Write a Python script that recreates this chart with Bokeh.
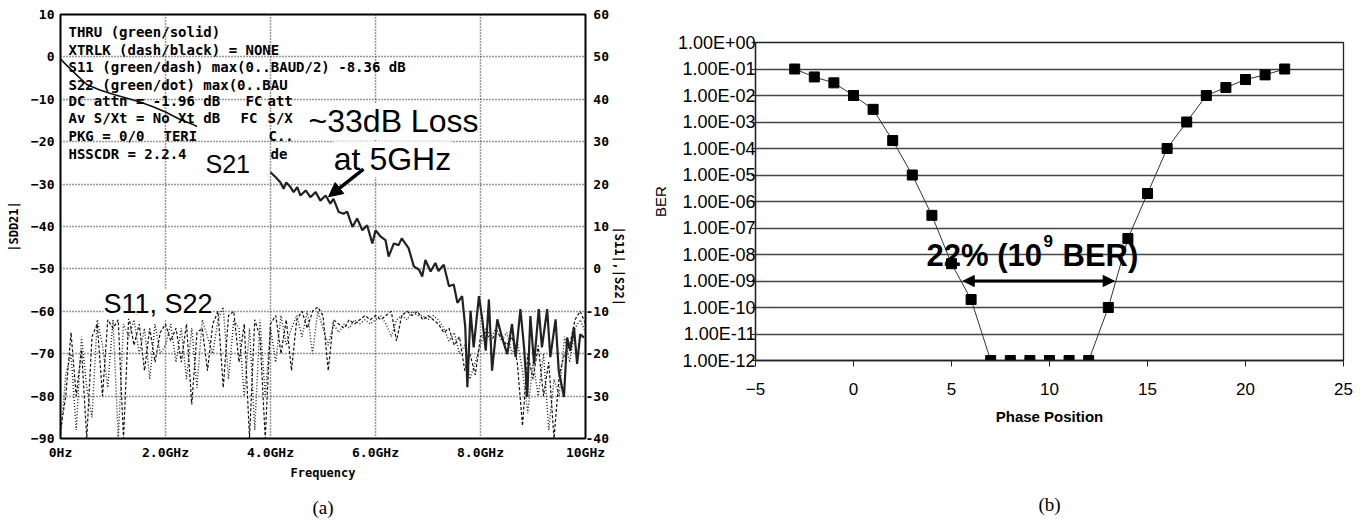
import math
from bokeh.plotting import figure
from bokeh.models import (Range1d, LinearAxis, FixedTicker, Label, Arrow,
                          NormalHead, CustomJSTickFormatter)
from bokeh.embed import file_html
from bokeh.resources import INLINE

MONO = "DejaVu Sans Mono"
SANS = "Liberation Sans"
SERIF = "Liberation Serif"

# ---------------- Panel (a) data: S-parameters ----------------
s21_lo_freq = [0.0, 0.25, 0.5, 0.75, 1.0, 1.25, 1.5, 1.75, 2.0, 2.25, 2.5, 2.6]
s21_lo_db = [-0.5, -3.6, -6.5, -7.8, -8.8, -9.7, -10.6, -11.7, -13.0, -14.6, -15.8, -16.4]

s21_hi_freq = [4.0, 4.1, 4.19, 4.25, 4.3, 4.38, 4.44, 4.51, 4.57, 4.67,
               4.76, 4.86, 4.95, 5.05, 5.14, 5.2, 5.3, 5.39, 5.46, 5.56,
               5.65, 5.75, 5.84, 5.94, 6.0, 6.1, 6.19, 6.25, 6.35, 6.44,
               6.5, 6.63, 6.73, 6.83, 6.89, 6.95, 7.05, 7.14, 7.2, 7.3,
               7.4, 7.49, 7.56, 7.65, 7.71, 7.75, 7.81, 7.87, 7.97, 8.03,
               8.1, 8.16, 8.22, 8.32, 8.41, 8.51, 8.6, 8.67, 8.76, 8.83,
               8.89, 8.95, 9.02, 9.11, 9.17, 9.27, 9.33, 9.43, 9.49, 9.59,
               9.65, 9.71, 9.78, 9.84, 9.9, 9.97]
s21_hi_db = [-27.2, -28.4, -29.6, -31.1, -29.6, -30.7, -31.9, -30.7, -32.7, -31.5,
             -33.1, -31.9, -33.9, -32.7, -34.6, -33.5, -36.6, -37.0, -36.5, -40.1,
             -38.1, -40.9, -39.7, -44.0, -40.9, -42.4, -43.2, -47.1, -44.0, -44.4,
             -42.8, -45.1, -49.4, -50.2, -51.8, -47.9, -50.6, -48.6, -50.5, -49.0,
             -54.1, -53.7, -58.0, -56.4, -63.8, -77.9, -59.9, -68.5, -56.4, -61.5,
             -69.3, -57.2, -74.0, -61.9, -66.2, -70.1, -63.0, -70.8, -59.5, -68.5,
             -80.2, -61.1, -72.4, -59.5, -68.5, -59.5, -70.8, -61.9, -74.0, -80.2,
             -66.2, -69.3, -63.8, -72.4, -65.4, -66.2]

s11_db = [-38, -30, -15, -30, -19, -40, -16, -13, -30, -12,
          -14, -12, -40, -11, -18, -13, -24, -14, -22, -15,
          -13, -17, -14, -22, -13, -32, -15, -14, -24, -13,
          -10, -28, -11, -10, -22, -13, -40, -12, -16, -40,
          -13, -11, -20, -12, -24, -12, -10, -14, -10, -9,
          -11, -24, -12, -13, -14, -12, -13, -12, -11, -12,
          -11, -12, -11, -10, -17, -11, -10, -11, -10, -12,
          -11, -12, -13, -15, -14, -18, -16, -24, -20, -25,
          -16, -15, -17, -15, -16, -18, -16, -22, -37, -20,
          -26, -18, -30, -22, -40, -25, -20, -18, -12, -10,
          -13]
s22_db = [-40, -25, -20, -38, -16, -28, -35, -12, -18, -28,
          -12, -40, -13, -16, -12, -20, -14, -26, -13, -20,
          -18, -13, -22, -14, -26, -14, -28, -12, -16, -20,
          -12, -9, -26, -12, -14, -30, -14, -38, -12, -30,
          -14, -22, -11, -18, -14, -11, -16, -10, -20, -10,
          -14, -18, -13, -15, -13, -14, -12, -13, -12, -13,
          -12, -11, -13, -16, -12, -11, -12, -10, -11, -11,
          -12, -11, -12, -14, -17, -15, -20, -18, -26, -22,
          -18, -14, -16, -14, -17, -15, -20, -17, -24, -34,
          -22, -30, -20, -38, -26, -30, -16, -22, -14, -12,
          -15]
refl_freq = [i / 10 for i in range(len(s11_db))]

freq_ticks = [0, 2, 4, 6, 8, 10]
freq_tick_labels = ["0Hz", "2.0GHz", "4.0GHz", "6.0GHz", "8.0GHz", "10GHz"]
sdd21_ticks = [-90, -80, -70, -60, -50, -40, -30, -20, -10, 0, 10]
s11s22_ticks = [-40, -30, -20, -10, 0, 10, 20, 30, 40, 50, 60]

header_texts = [
    ("THRU (green/solid)", 68, 32),
    ("XTRLK (dash/black) = NONE", 68, 50),
    ("S11 (green/dash) max(0..BAUD/2) -8.36 dB", 68, 67),
    ("S22 (green/dot) max(0..BAU", 68, 85),
    ("DC attn = -1.96 dB", 68, 101), ("FC", 245, 101), ("att", 267, 101),
    ("Av S/Xt = No Xt dB", 68, 118), ("FC", 240, 118), ("S/X", 267, 118),
    ("PKG = 0/0", 68, 137), ("TERI", 163, 137), ("C..", 268, 137),
    ("HSSCDR = 2.2.4", 68, 155), ("de", 270, 155),
]

# ---------------- Panel (b) data: BER bathtub ----------------
phase = [-3, -2, -1, 0, 1, 2, 3, 4, 5, 6, 7, 8, 9, 10, 11, 12,
         13, 14, 15, 16, 17, 18, 19, 20, 21, 22]
ber = [1e-1, 5e-2, 3e-2, 1e-2, 3e-3, 2e-4, 1e-5, 3e-7, 4.5e-9, 2e-10,
       1e-12, 1e-12, 1e-12, 1e-12, 1e-12, 1e-12,
       1e-10, 4e-8, 2e-6, 1e-4, 1e-3, 1e-2, 2e-2, 4e-2, 6e-2, 1e-1]
phase_ticks = [-5, 0, 5, 10, 15, 20, 25]
ber_ticks = [1e-12, 1e-11, 1e-10, 1e-9, 1e-8, 1e-7, 1e-6, 1e-5, 1e-4,
             1e-3, 1e-2, 1e-1, 1.0]
eye_window = (5.6, 13.3)
eye_level = 1e-9

assert len(s21_hi_freq) == len(s21_hi_db)
assert len(s11_db) == len(s22_db)
assert len(phase) == len(ber)


# position helpers (page pixels -> data coords) for annotations
def ax_x(px):
    return (px - 60) / 52.5


def ax_y(py):
    return 10 - (py - 14) / 4.28


def bx_x(px):
    return (px - 755) / 19.6 - 5


def bx_y(py):
    return 10 ** (-(py - 42) / 26.5)


def caption_axis(text, standoff):
    return LinearAxis(ticker=FixedTicker(ticks=[]), axis_label=text,
                      axis_line_color=None, major_tick_out=0, major_tick_in=0,
                      minor_tick_out=0, minor_tick_in=0, major_label_standoff=0,
                      axis_label_standoff=standoff, axis_label_text_font=SERIF,
                      axis_label_text_font_size="19px",
                      axis_label_text_font_style="normal",
                      axis_label_text_color="black")


FIG_H = 520

# ======================= Panel (a) =======================
pa = figure(width=654, height=FIG_H, x_range=Range1d(0, 10), y_range=Range1d(-90, 10),
            output_backend="svg", toolbar_location=None,
            min_border_left=60, min_border_right=69, min_border_top=14,
            min_border_bottom=FIG_H - 442)
pa.styles = {"position": "absolute", "left": "0px", "top": "0px"}
pa.extra_y_ranges = {"right": Range1d(-40, 60)}
pa.outline_line_color = "black"
pa.outline_line_width = 2

for g, t in ((pa.xgrid, freq_ticks), (pa.ygrid, sdd21_ticks)):
    g.ticker = FixedTicker(ticks=t)
    g.grid_line_color = "#333333"
    g.grid_line_dash = "1 2"
    g.grid_line_width = 1.5

xa = pa.xaxis[0]
xa.ticker = FixedTicker(ticks=freq_ticks)
xa.major_label_overrides = {t: s for t, s in zip(freq_ticks, freq_tick_labels)}
xa.axis_label = "Frequency"
xa.axis_label_standoff = 3

ya = pa.yaxis[0]
ya.ticker = FixedTicker(ticks=sdd21_ticks)
ya.axis_label = "|SDD21|"
ya.axis_label_standoff = 7

yr = LinearAxis(y_range_name="right", ticker=FixedTicker(ticks=s11s22_ticks),
                axis_label="|S11|,|S22|")
yr.major_label_overrides = {t: (("\u00a0" + str(t)) if t >= 0 else str(t))
                            for t in s11s22_ticks}
yr.axis_label_standoff = 7
if "axis_label_orientation" in LinearAxis.properties():
    yr.axis_label_orientation = -math.pi / 2
pa.add_layout(yr, "right")

for ax in (xa, ya, yr):
    ax.axis_line_color = None
    ax.major_tick_line_color = None
    ax.minor_tick_line_color = None
    ax.major_tick_out = 0
    ax.major_tick_in = 0
    ax.minor_tick_out = 0
    ax.major_label_text_font = MONO
    ax.major_label_text_font_style = "bold"
    ax.major_label_text_font_size = "13px"
    ax.major_label_text_color = "black"
    ax.axis_label_text_font = MONO
    ax.axis_label_text_font_style = "bold"
    ax.axis_label_text_font_size = "12px"
    ax.axis_label_text_color = "black"
xa.major_label_standoff = 6
ya.major_label_standoff = 6
yr.major_label_standoff = 0

pa.add_layout(caption_axis("(a)", 14), "below")

pa.line(refl_freq, s11_db, y_range_name="right", line_color="#111111",
        line_width=1.2, line_dash="3 2")
pa.line(refl_freq, s22_db, y_range_name="right", line_color="#222222",
        line_width=1.4, line_dash="1 2")
pa.line(s21_lo_freq, s21_lo_db, line_color="#111111", line_width=1.6)
pa.line(s21_hi_freq, s21_hi_db, line_color="#222222", line_width=2.2)

for txt, px, py in header_texts:
    pa.add_layout(Label(x=ax_x(px), y=ax_y(py), text=txt, text_font=MONO,
                        text_font_style="bold", text_font_size="14px",
                        text_color="black", text_align="left",
                        text_baseline="middle"))

big = dict(text_font=SANS, text_color="black", text_baseline="alphabetic",
           background_fill_color="white")
pa.add_layout(Label(x=ax_x(393), y=ax_y(122), text="~33dB Loss", text_align="center",
                    text_font_size="32px", **big))
pa.add_layout(Label(x=ax_x(392), y=ax_y(160), text="at 5GHz", text_align="center",
                    text_font_size="32px", **big))
pa.add_layout(Label(x=ax_x(205), y=ax_y(165), text="S21", text_align="left",
                    text_font_size="25px", **big))
pa.add_layout(Label(x=ax_x(103), y=ax_y(306), text="S11, S22", text_align="left",
                    text_font_size="27px", **big))
pa.add_layout(Arrow(end=NormalHead(size=14, fill_color="black", line_color="black"),
                    x_start=ax_x(363), y_start=ax_y(170),
                    x_end=ax_x(328), y_end=ax_y(198),
                    line_color="black", line_width=3.5))

# ======================= Panel (b) =======================
PB_LEFT = 634
pb = figure(width=1361 - PB_LEFT, height=FIG_H, x_range=Range1d(-5, 25),
            y_range=Range1d(ber_ticks[0], ber_ticks[-1]), y_axis_type="log",
            output_backend="svg", toolbar_location=None,
            min_border_left=755 - PB_LEFT, min_border_right=18, min_border_top=42,
            min_border_bottom=FIG_H - 360)
pb.styles = {"position": "absolute", "left": f"{PB_LEFT}px", "top": "0px"}
pb.border_fill_alpha = 0
pb.outline_line_color = "#222222"
pb.outline_line_width = 1.3
pb.xgrid.grid_line_color = None
pb.ygrid.ticker = FixedTicker(ticks=ber_ticks)
pb.ygrid.grid_line_color = "#444444"
pb.ygrid.grid_line_width = 1.3

bxa = pb.xaxis[0]
bxa.ticker = FixedTicker(ticks=phase_ticks)
bxa.axis_label = "Phase Position"
bxa.axis_label_text_font_style = "bold"
bxa.axis_label_text_font_size = "15px"
bxa.major_label_text_font_size = "17px"
bxa.major_tick_out = 6
bxa.major_tick_in = 0
bxa.major_label_standoff = 16
bxa.axis_label_standoff = 10

bya = pb.yaxis[0]
bya.ticker = FixedTicker(ticks=ber_ticks)
bya.formatter = CustomJSTickFormatter(code="""
const e = Math.round(Math.log10(tick));
const a = Math.abs(e);
return "1.00E" + (e < 0 ? "-" : "+") + (a < 10 ? "0" : "") + a;
""")
bya.axis_label = "BER"
bya.axis_label_text_font_style = "normal"
bya.axis_label_text_font_size = "15px"
bya.major_label_text_font_size = "18px"
bya.major_tick_out = 4
bya.major_tick_in = 0
bya.major_label_standoff = -4
bya.axis_label_standoff = 6

for ax in (bxa, bya):
    ax.axis_line_color = "#222222"
    ax.axis_line_width = 1.3
    ax.major_tick_line_color = "#222222"
    ax.minor_tick_line_color = None
    ax.minor_tick_out = 0
    ax.major_label_text_font = SANS
    ax.major_label_text_color = "black"
    ax.axis_label_text_font = SANS
    ax.axis_label_text_color = "black"

pb.add_layout(caption_axis("(b)", 66), "below")

pb.line(phase, ber, line_color="#333333", line_width=1)
pb.scatter(phase, ber, marker="square", size=10, fill_color="black",
           line_color="black")

pb.add_layout(Arrow(start=NormalHead(size=11, fill_color="black", line_color="black"),
                    end=NormalHead(size=11, fill_color="black", line_color="black"),
                    x_start=eye_window[0], y_start=eye_level,
                    x_end=eye_window[1], y_end=eye_level,
                    line_color="black", line_width=3))
lab = dict(text_font=SANS, text_font_style="bold", text_color="black",
           text_align="left", text_baseline="alphabetic")
pb.add_layout(Label(x=bx_x(926), y=bx_y(255), text="22% (10",
                    text_font_size="31px", **lab))
pb.add_layout(Label(x=bx_x(1043), y=bx_y(240), text="9",
                    text_font_size="17px", **lab))
pb.add_layout(Label(x=bx_x(1062), y=bx_y(255), text="BER)",
                    text_font_size="31px", **lab))

open("out.html", "w").write(file_html([pa, pb], INLINE))
